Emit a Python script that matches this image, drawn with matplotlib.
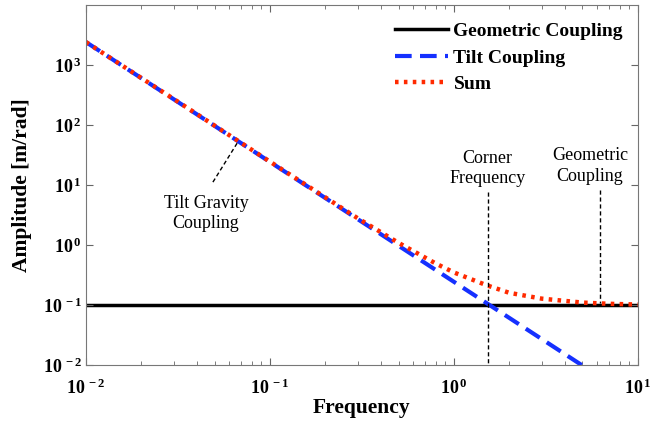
import numpy as np
import matplotlib.pyplot as plt

# frequency [Hz] vs amplitude [m/rad]
f_geo = [0.01, 10.0]
amp_geo = [0.1, 0.1]

f_tilt = [0.01, 5.0]
amp_tilt = [2420, 0.0098]

f_sum = [0.01, 0.03, 0.1, 0.3, 0.5, 0.8, 1.0, 1.5, 2.0, 3.0, 5.0, 7.0, 10.0]
amp_sum = [2420, 272, 24.6, 2.8, 1.09, 0.49, 0.35, 0.215, 0.16, 0.128, 0.11, 0.105, 0.102]

plt.rcParams['font.family'] = 'Liberation Serif'
plt.rcParams['mathtext.fontset'] = 'custom'
plt.rcParams['mathtext.rm'] = 'Liberation Serif:bold'
plt.rcParams['mathtext.it'] = 'Liberation Serif:bold'
plt.rcParams['mathtext.bf'] = 'Liberation Serif:bold'

fig = plt.figure(figsize=(6.61, 4.24), dpi=100)
ax = fig.add_axes([0.130, 0.139, 0.835, 0.849])

ax.plot(f_tilt, amp_tilt, color='#1530ff', ls=(0, (4, 2)), lw=3, label='Tilt Coupling')
ax.plot(f_sum, amp_sum, color='#ff2a00', ls=(0, (0.8, 1.2)), lw=3.2, label='Sum')
ax.plot(f_geo, amp_geo, color='black', lw=2.5, label='Geometric Coupling', zorder=1.5)

ax.set_xscale('log')
ax.set_yscale('log')
ax.set_xlim(1e-2, 1e1)
ax.set_ylim(1e-2, 1e4)
ax.set_yticks([1e-2, 1e-1, 1e0, 1e1, 1e2, 1e3])
ax.set_yticklabels([r'$10^{\,-2}$', r'$10^{\,-1}$', r'$10^{\,0}$', r'$10^{\,1}$', r'$10^{\,2}$', r'$10^{\,3}$'])
ax.set_xticks([1e-2, 1e-1, 1e0, 1e1])
ax.set_xticklabels([r'$10^{\,-2}$', r'$10^{\,-1}$', r'$10^{\,0}$', r'$10^{\,1}$'])
ax.yaxis.set_minor_locator(plt.NullLocator())
ax.tick_params(which='both', direction='in', top=True, right=True, color='#666666', labelsize=13)
ax.tick_params(which='major', length=5)
ax.tick_params(which='minor', length=3)
ax.tick_params(axis='x', pad=10)
ax.tick_params(axis='y', pad=3)
for s in ax.spines.values():
    s.set_color('#777777')

ax.set_xlabel('Frequency', fontsize=15.5, fontweight='bold', labelpad=0)
ax.set_ylabel('Amplitude [m/rad]', fontsize=15.5, fontweight='bold', labelpad=8)

# annotations
ax.plot([0.049, 0.0669], [11.2, 52], color='black', ls=(0, (3, 2)), lw=1)
ax.text(0.045, 3.35, 'Tilt Gravity\nCoupling', ha='center', va='center', fontsize=13, linespacing=1.25)

ax.plot([1.53, 1.53], [7.6, 1e-2], color='black', ls=(0, (3, 2)), lw=1)
ax.text(1.52, 18.8, 'Corner\nFrequency', ha='center', va='center', fontsize=13, linespacing=1.25)

ax.plot([6.2, 6.2], [8.3, 0.107], color='black', ls=(0, (3, 2)), lw=1)
ax.text(5.5, 20.7, 'Geometric\nCoupling', ha='center', va='center', fontsize=13, linespacing=1.25)

h, l = ax.get_legend_handles_labels()
order = [2, 0, 1]
ax.legend([h[i] for i in order], [l[i] for i in order], loc='upper right', frameon=False,
          prop={'weight': 'bold', 'size': 14}, handlelength=2.7, handletextpad=0.3,
          labelspacing=0.45, borderaxespad=0.5, bbox_to_anchor=(1.005, 1.0))

fig.savefig('out.png', dpi=100)
